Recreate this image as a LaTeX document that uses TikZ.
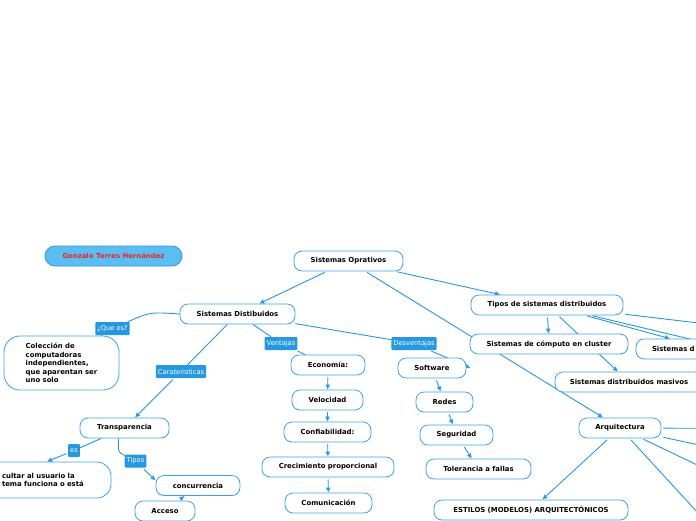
\documentclass[tikz,border=0pt]{standalone}
\usepackage{fontspec}
\setmainfont{DejaVu Sans}
\usetikzlibrary{arrows.meta,backgrounds}
\definecolor{lineblue}{RGB}{38,152,226}
\definecolor{nodeblue}{RGB}{58,162,230}
\definecolor{namefill}{RGB}{92,190,240}
\definecolor{namered}{RGB}{232,38,48}
\begin{document}
\begin{tikzpicture}[x=1pt, y=-1pt,
    box/.style={draw=nodeblue, line width=0.8pt, fill=white, rounded corners=8pt,
      minimum height=20pt, inner sep=2pt, font=\fontsize{6.9}{8.6}\selectfont\bfseries},
    lbl/.style={fill=lineblue, text=white, rounded corners=1pt, inner xsep=2pt,
      inner ysep=0pt, minimum height=13pt, font=\fontsize{6.7}{7}\selectfont},
    conn/.style={lineblue, line width=0.9pt, shorten <=2pt},
    arr/.style={conn, -{Latex[length=5pt,width=5pt]}}]
  \useasboundingbox (0,0) rectangle (696,520);
  % Autor
  \node[box, fill=namefill, draw=lineblue, rounded corners=10pt, text=namered,
    minimum width=137pt] (gonzalo) at (113.5,256) {Gonzalo Torres Hernández};
  % Raiz y ramas principales
  \node[box, minimum width=109pt] (oprat) at (348.5,261) {Sistemas Oprativos};
  \node[box, minimum width=115pt] (distrib) at (237.5,314) {Sistemas Distibuidos};
  \node[box, minimum width=152pt] (tipos) at (547,305) {Tipos de sistemas distribuidos};
  \node[box, minimum width=158pt] (cluster) at (549,344) {Sistemas de cómputo en cluster};
  \node[box, minimum width=140pt, text width=108pt, inner xsep=16pt, align=left]
    (sisd) at (706,349) {Sistemas d};
  \node[box, minimum width=148pt] (masivos) at (629,382) {Sistemas distribuidos masivos};
  \node[box, minimum width=82pt] (arquit) at (620,428) {Arquitectura};
  \node[box, minimum width=194pt] (estilos) at (531,510) {ESTILOS (MODELOS) ARQUITECTÓNICOS};
  % Definicion
  \node[box, rounded corners=16pt, minimum width=115pt, minimum height=54pt, align=left]
    (colec) at (61.5,363) {Colección de\\computadoras\\independientes,\\que aparentan ser\\uno solo};
  % Ventajas
  \node[box, minimum width=74pt] (econ) at (328,365) {Economía:};
  \node[box, minimum width=71pt] (veloc) at (327.5,400) {Velocidad};
  \node[box, minimum width=87pt] (confi) at (327.5,432) {Confiabilidad:};
  \node[box, minimum width=132pt] (crec) at (328,467) {Crecimiento proporcional};
  \node[box, minimum width=87pt] (comun) at (328.5,503) {Comunicación};
  % Desventajas
  \node[box, minimum width=68pt] (softw) at (432,368) {Software};
  \node[box, minimum width=57pt] (redes) at (444.5,402) {Redes};
  \node[box, minimum width=73pt] (segur) at (456.5,435) {Seguridad};
  \node[box, minimum width=105pt] (toler) at (478.5,469) {Tolerancia a fallas};
  % Caracteristicas
  \node[box, rounded corners=14pt, minimum width=128pt, minimum height=36pt,
    text width=90pt, inner xsep=18pt, text depth=9pt, align=left]
    (ocultar) at (47,480) {cultar al usuario la\\tema funciona o está};
  \node[box, minimum width=89pt] (transp) at (124.5,428) {Transparencia};
  \node[box, minimum width=84pt] (concur) at (198,485.5) {concurrencia};
  \node[box, minimum width=60pt] (acceso) at (165,511) {Acceso};
  % Etiquetas de las uniones
  \node[lbl] (lque) at (112.5,328.5) {¿Que es?};
  \node[lbl] (lcar) at (181,371.5) {Carateristicas};
  \node[lbl] (lven) at (281,343.5) {Ventajas};
  \node[lbl] (ldes) at (414,343.5) {Desventajas};
  \node[lbl] (les) at (74,450.5) {es};
  \node[lbl] (ltip) at (135.5,461) {Tipos};
  % Extremos fuera del cuadro
  \coordinate (fueraA) at (900,347);
  \coordinate (fueraB) at (900,389);
  \coordinate (fueraC) at (900,429);
  \coordinate (fueraD) at (900,488);
  \coordinate (fueraE) at (900,562);
  \coordinate (fueraF) at (800,624);
  % Uniones
  \begin{scope}[on background layer]
    \fill[white] (0,0) rectangle (696,520);
    \draw[arr] (oprat) -- (distrib);
    \draw[arr] (oprat) -- (tipos);
    \draw[arr] (oprat) -- (arquit);
    \draw[arr] (tipos) -- (cluster);
    \draw[arr] (tipos) -- (masivos);
    \draw[arr] (tipos) -- (sisd.north west -| 670,0);
    \draw[conn] (tipos) -- (fueraA);
    \draw[conn] (tipos) -- (fueraB);
    \draw[arr] (arquit) -- (estilos);
    \foreach \f in {fueraC,fueraD,fueraE,fueraF} { \draw[conn] (arquit) -- (\f); }
    \draw[conn] (distrib.west) .. controls (150,312) .. (lque) -- (colec);
    \draw[arr] (distrib) -- (lcar) -- (transp);
    \draw[conn] (distrib) -- (lven) -- (econ);
    \draw[arr] (distrib) -- (ldes) -- ([xshift=4pt]softw.east);
    \draw[arr] (econ) -- (veloc);
    \draw[arr] (veloc) -- (confi);
    \draw[arr] (confi) -- (crec);
    \draw[arr] (crec) -- (comun);
    \draw[arr] (softw) -- (redes);
    \draw[arr] (redes) -- (segur);
    \draw[arr] (segur) -- (toler);
    \draw[arr] (transp) -- (les) -- (ocultar.north);
    \draw[arr] ([xshift=-6pt]transp.south) .. controls (118,452) .. (ltip) -- ([yshift=5pt]concur.west);
    \draw[arr] (acceso) -- (concur);
  \end{scope}
\end{tikzpicture}
\end{document}
